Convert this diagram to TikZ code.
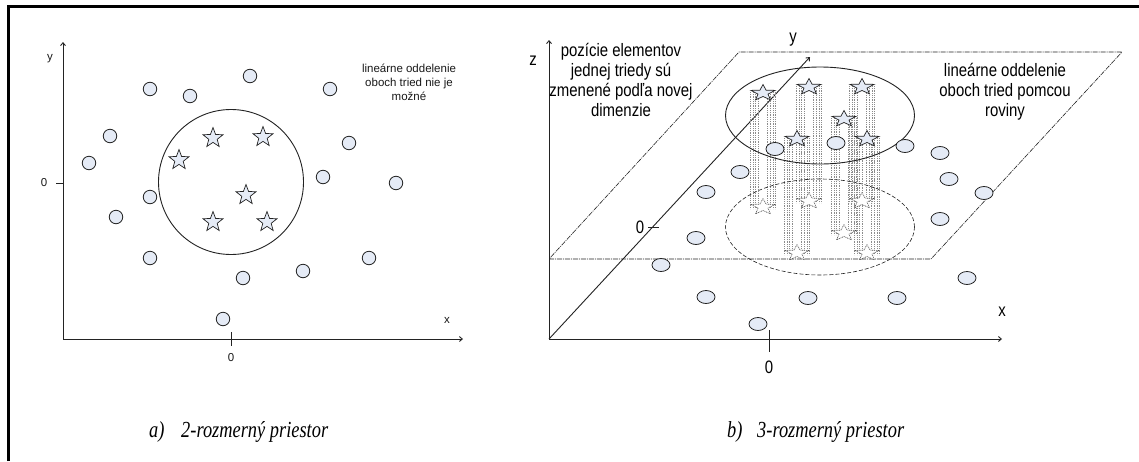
\documentclass[tikz,border=0pt]{standalone}
\usepackage{fontspec}
\setmainfont{Liberation Serif}
\newfontfamily\arialf{Liberation Sans}
\newfontfamily\narrowf[FakeStretch=0.83]{Liberation Sans}
\newfontfamily\capf[FakeStretch=0.8]{Liberation Serif}
\usetikzlibrary{arrows.meta,shapes.geometric}
\definecolor{dotfill}{RGB}{229,235,246}
\definecolor{linegray}{RGB}{35,35,35}
\newcommand\mystarpath[6]{%
  \path[#1, shift={(#2,#3)}, xscale=#4]
   (90:#5pt) -- (126:#6pt) -- (162:#5pt) -- (198:#6pt) -- (234:#5pt) -- (270:#6pt)
   -- (306:#5pt) -- (342:#6pt) -- (18:#5pt) -- (54:#6pt) -- cycle;}
\tikzset{
  axisline/.style={draw=linegray, line width=0.9pt, -{Straight Barb[length=3pt,width=5pt]}},
  tickline/.style={draw=linegray, line width=0.9pt},
  dotc/.style={draw=linegray, fill=dotfill, circle, minimum size=13.5pt, inner sep=0pt, line width=0.8pt},
  dote/.style={draw=linegray, fill=dotfill, ellipse, minimum width=18pt, minimum height=13pt, inner sep=0pt, line width=0.8pt},
  fstar/.style={draw=linegray, fill=dotfill, line width=0.7pt, line join=miter},
  gstar/.style={draw=black!70, fill=white, line width=0.6pt, dash pattern=on 1pt off 0.8pt},
  colline/.style={draw=black!45, line width=0.4pt, dash pattern=on 1pt off 0.8pt},
  planeline/.style={draw=linegray, line width=0.6pt, dash pattern=on 5pt off 1pt on 1pt off 1pt},
  smalltxt/.style={font=\arialf\fontsize{11.5}{14}\selectfont, text=black!90},
  narrowtxt/.style={font=\narrowf\fontsize{18}{20}\selectfont},
  captxt/.style={font=\capf\itshape\fontsize{23}{26}\selectfont, anchor=base west, inner sep=0pt}
}
\begin{document}
\begin{tikzpicture}[x=1pt,y=-1pt]
\useasboundingbox (0,0) rectangle (1139,461);
\fill[white] (0,0) rectangle (1139,461);
% frame
\draw[line width=2.6pt] (8.7,461) -- (8.7,6.3) -- (1139,6.3);

% ---------------- left panel ----------------
\coordinate (O1) at (63,339);
\coordinate (Y1) at (63,42);
\coordinate (X1) at (463,339);
\draw[axisline] (O1) -- (Y1);
\draw[axisline] (O1) -- (X1);
\draw[tickline] (56,183) -- (63,183);
\draw[tickline] (231,332) -- (231,346);
\node[smalltxt] (ly) at (50,59) {y};
\node[smalltxt] (l0y) at (44,183) {0};
\node[smalltxt] (lx) at (447,320) {x};
\node[smalltxt] (l0x) at (231,358) {0};
\node[smalltxt, align=center] (ltext) at (409,82) {lineárne oddelenie\\oboch tried nie je\\možné};
\node[draw=linegray, line width=0.9pt, circle, minimum size=145pt, inner sep=0pt] (bigc) at (231,182) {};
\foreach \x/\y [count=\i] in {150/89,190/96,250/76,330/89,110/136,89/163,349/143,323/177,396/183,150/197,116/217,150/258,369/258,303/271,243/278,223/319}{
  \node[dotc] (ld\i) at (\x,\y) {};}
\foreach \x/\y in {213/138,263/137,179/160,246/195,213/222,267/222}{
  \mystarpath{fstar}{\x}{\y}{1}{10.5}{4.4}}

% ---------------- right panel ----------------
\coordinate (O2) at (549,339);
\coordinate (Z2) at (549,40);
\coordinate (X2) at (1002,339);
\coordinate (Y2) at (810,57);
\coordinate (P1) at (549,259);
\coordinate (P2) at (931,259);
\coordinate (P3) at (1122,52);
\coordinate (P4) at (739,52);
\draw[planeline] (P1) -- (P2) -- (P3) -- (P4) -- cycle;
\draw[axisline] (O2) -- (Z2);
\draw[axisline] (O2) -- (X2);
\draw[axisline] (O2) -- (Y2);
\draw[tickline] (769,330) -- (769,352);
\draw[tickline] (648,227) -- (659,227);
\node[narrowtxt] (rz) at (533,61) {z};
\node[narrowtxt] (ry) at (793,40) {y};
\node[narrowtxt] (rx) at (1002,312) {x};
\node[narrowtxt] (r0x) at (769,367) {0};
\node[narrowtxt] (r0y) at (640,227) {0};
\node[narrowtxt, align=center] (rtext1) at (621,80) {pozície elementov\\jednej triedy sú\\zmenené podľa novej\\dimenzie};
\node[narrowtxt, align=center] (rtext2) at (1005,92) {lineárne oddelenie\\oboch tried pomcou\\roviny};

% columns of projections
\foreach \x/\y in {763/93,809/87,862/87,844/119,797/139,867/139}{
  \foreach \o in {-12.5,-10,-7.5,-4.5,4.5,7.5,10,12.5}{
    \draw[colline] ({\x+\o},{\y-1}) -- ({\x+\o},{\y+116});}
}
% dashed ellipse (original plane)
\node[draw=linegray, line width=0.6pt, dash pattern=on 4pt off 2pt, ellipse, minimum width=189pt, minimum height=96pt, inner sep=0pt] (elow) at (820,227) {};
% solid ellipse (separation)
\node[draw=linegray, line width=0.9pt, ellipse, minimum width=189pt, minimum height=97pt, inner sep=0pt] (ehigh) at (820,115.5) {};
% dots
\foreach \x/\y [count=\i] in {775/149,836/143,905/146,940/153,740/172,949/179,706/192,984/193,940/219,696/238,661/265,967/278,706/297,808/298,897/298,758/324}{
  \node[dote] (rd\i) at (\x,\y) {};}
% projected (ghost) stars
\foreach \x/\y in {763/207,809/201,862/201,844/233,797/253,867/253}{
  \mystarpath{gstar}{\x}{\y}{1.5}{8.5}{3.5}}
% lifted stars
\foreach \x/\y in {763/93,809/87,862/87,844/119,797/139,867/139}{
  \mystarpath{fstar}{\x}{\y}{1.5}{8.5}{3.5}}

% captions
\node[captxt] (capa1) at (149,437) {a)};
\node[captxt] (capa2) at (181,437) {2-rozmerný priestor};
\node[captxt] (capb1) at (727,437) {b)};
\node[captxt] (capb2) at (757,437) {3-rozmerný priestor};
\end{tikzpicture}
\end{document}
